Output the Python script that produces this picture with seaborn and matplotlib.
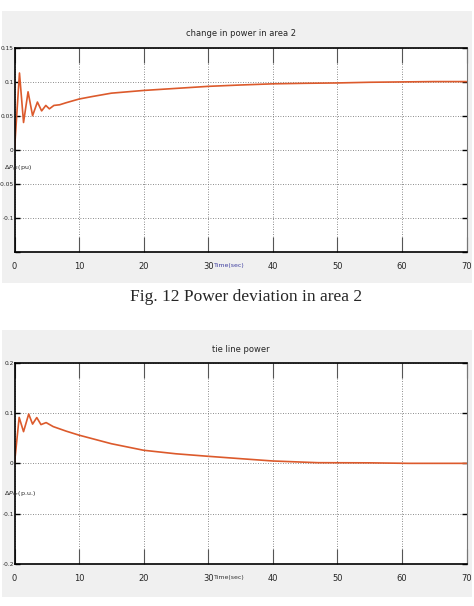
import matplotlib
matplotlib.use("Agg")
import matplotlib.pyplot as plt
from matplotlib.patches import Rectangle
from matplotlib import font_manager
import seaborn as sns
import pandas as pd

# ---- data ----
t_area2 = [0, 0.77, 1.4, 2.1, 2.8, 3.55, 4.2, 4.85, 5.4, 6.1, 7, 8, 10, 12, 15,
           20, 25, 30, 35, 40, 45, 50, 55, 60, 65, 70]
p_area2 = [0, 0.1126, 0.040, 0.085, 0.050, 0.070, 0.057, 0.065, 0.060, 0.065,
           0.066, 0.069, 0.0744, 0.078, 0.083, 0.087, 0.090, 0.093, 0.095,
           0.0967, 0.0975, 0.098, 0.099, 0.0995, 0.100, 0.100]

t_tie = [0, 0.72, 1.4, 2.2, 2.8, 3.45, 4.1, 4.9, 6, 8, 10, 15, 20, 25, 30, 35,
         40, 47, 55, 61, 70]
p_tie = [0, 0.0913, 0.063, 0.098, 0.078, 0.091, 0.077, 0.081, 0.073, 0.064,
         0.056, 0.039, 0.026, 0.019, 0.014, 0.0093, 0.0047, 0.0013, 0.001, 0.0, 0.0]

x_ticks = [0, 10, 20, 30, 40, 50, 60, 70]
x_labels = ["0", "10", "20", "30", "40", "50", "60", "70"]
y1_ticks = [0.15, 0.1, 0.05, 0, -0.05, -0.1, -0.15]
y1_labels = ["0.15", "0.1", "0.05", "0", "-0.05", "-0.1", ""]
y2_ticks = [0.2, 0.1, 0, -0.1, -0.2]
y2_labels = ["0.2", "0.1", "0", "-0.1", "-0.2"]

title1 = "change in power in area 2"
title2 = "tie line power"
ylabel1 = r"$\Delta P_{g2}$(pu)"
ylabel2 = r"$\Delta P_{tie}$(p.u.)"
xlabel = "Time(sec)"
caption = "Fig. 12 Power deviation in area 2"

sns.set_style("white")
names = {f.name for f in font_manager.fontManager.ttflist}
narrow = "Liberation Sans Narrow" if "Liberation Sans Narrow" in names else "DejaVu Sans"
plt.rcParams["font.family"] = [narrow, "DejaVu Sans"]

W, H = 474, 606
fig = plt.figure(figsize=(W / 100, H / 100), dpi=100)
fig.patch.set_facecolor("white")

# gray panels
for (x0, y0, x1, y1) in [(2, 11, 472, 283), (2, 330, 472, 597)]:
    fig.patches.append(Rectangle((x0 / W, 1 - y1 / H), (x1 - x0) / W, (y1 - y0) / H,
                                 transform=fig.transFigure, facecolor="#f0f0f0",
                                 edgecolor="none", zorder=-10))

line_color = "#dc5a2c"


def make_axes(rect, t, v, yticks, ylabels, ylim, title, ylabel, ylab_y, xlab_color):
    ax = fig.add_axes(rect)
    ax.set_zorder(5)
    ax.set_facecolor("white")
    df = pd.DataFrame({"t": t, "v": v})
    sns.lineplot(data=df, x="t", y="v", ax=ax, color=line_color, linewidth=1.2,
                 estimator=None, sort=False)
    ax.set_xlim(0, 70)
    ax.set_ylim(*ylim)
    ax.set_xticks(x_ticks)
    ax.set_xticklabels(x_labels, fontsize=6)
    ax.set_yticks(yticks)
    ax.set_yticklabels(ylabels, fontsize=4.2)
    ax.set_xlabel("")
    ax.set_ylabel("")
    ax.grid(True, linestyle=(0, (1, 2)), color="#666666", linewidth=0.6)
    ax.tick_params(axis="x", direction="in", length=11, width=0.8, color="#555555",
                   top=True, bottom=True, pad=7)
    ax.tick_params(axis="y", direction="in", length=3.5, width=1.0, color="black",
                   left=True, right=True, pad=0.5)
    for s in ["top", "bottom", "left"]:
        ax.spines[s].set_color("black")
        ax.spines[s].set_linewidth(1.2)
    ax.spines["right"].set_color("#777777")
    ax.spines["right"].set_linewidth(0.8)
    ax.set_title(title, fontsize=6, pad=8)
    ax.text(-0.024, ylab_y, ylabel, transform=ax.transAxes, fontsize=4.5,
            ha="left", va="center")
    ax.text(0.475, -0.066, xlabel, transform=ax.transAxes, fontsize=4.5,
            ha="center", va="center", color=xlab_color)
    return ax


ax1 = make_axes([14.5 / W, 1 - 252 / H, 452 / W, 204.5 / H], t_area2, p_area2,
                y1_ticks, y1_labels, (-0.15, 0.15), title1, ylabel1, 0.405, "#4040a0")
ax2 = make_axes([14.5 / W, 1 - 564 / H, 452 / W, 201.3 / H], t_tie, p_tie,
                y2_ticks, y2_labels, (-0.2, 0.2), title2, ylabel2, 0.35, "#333333")

fig.text(0.52, 1 - 297 / H, caption, fontsize=12.5, family=["Liberation Serif"],
         ha="center", va="center")

fig.savefig("out.png", dpi=100)
